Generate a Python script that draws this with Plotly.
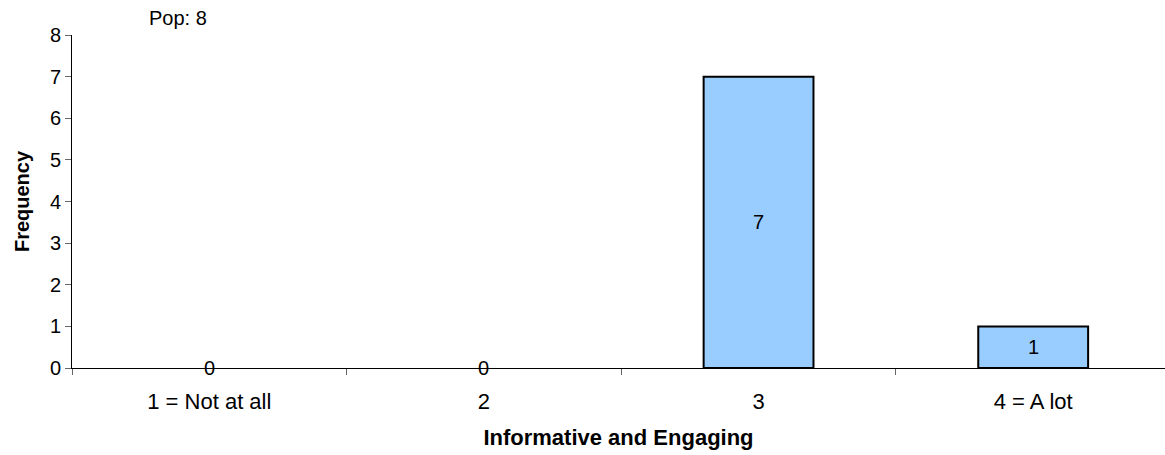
import plotly.graph_objects as go

categories = ["1 = Not at all", "2", "3", "4 = A lot"]
frequency = [0, 0, 7, 1]
population = 8

FONT = "Liberation Sans, Arial, sans-serif"

fig = go.Figure()
fig.add_trace(go.Bar(
    x=categories,
    y=frequency,
    width=0.4,
    marker=dict(color="#99CCFF",
                line=dict(color="#000000",
                          width=[2 if v > 0 else 0 for v in frequency])),
    showlegend=False,
))

# value labels centred in each bar (zero bars sit on the axis line)
for i, v in enumerate(frequency):
    fig.add_annotation(x=i, y=v / 2, text=str(v), showarrow=False,
                       xanchor="center", yanchor="middle",
                       font=dict(family=FONT, size=20, color="#000"))

fig.add_annotation(xref="paper", yref="paper", x=0.097, y=1.0,
                   text=f"Pop: {population}", showarrow=False,
                   xanchor="center", yanchor="bottom", yshift=4,
                   font=dict(family=FONT, size=20, color="#000"))

fig.update_layout(
    width=1165, height=455,
    margin=dict(l=72, r=0, t=35, b=87),
    paper_bgcolor="white", plot_bgcolor="white",
    font=dict(family=FONT, size=20, color="#000"),
    xaxis=dict(
        type="category", range=[-0.5, 3.48],
        showline=True, linecolor="#000", linewidth=1,
        ticks="outside", tickson="boundaries", ticklen=6, tickcolor="#666",
        ticklabelstandoff=14, tickfont=dict(family=FONT, size=22),
        showgrid=False, zeroline=False,
        title=dict(text="<b>Informative and Engaging</b>", standoff=16,
                   font=dict(family=FONT, size=22)),
    ),
    yaxis=dict(
        range=[0, 8], dtick=1,
        showline=True, linecolor="#000", linewidth=1,
        ticks="outside", ticklen=6, tickcolor="#666",
        showgrid=False, zeroline=False,
        title=dict(text="<b>Frequency</b>", standoff=14,
                   font=dict(family=FONT, size=20)),
    ),
)

fig.write_html("out.html")
